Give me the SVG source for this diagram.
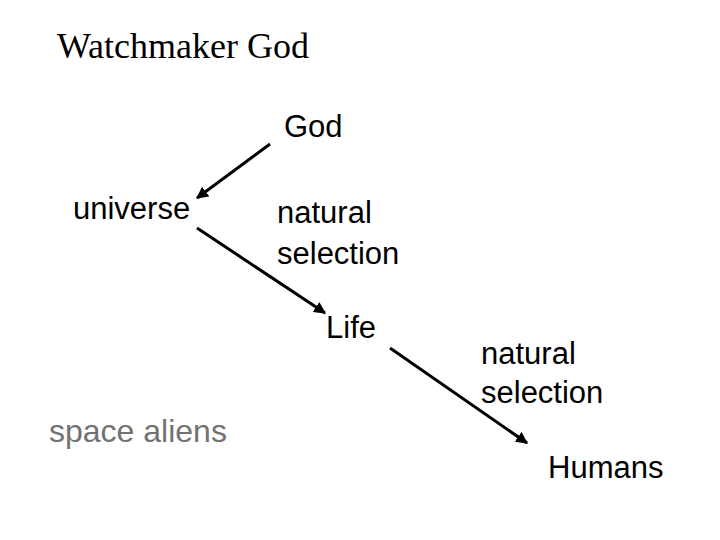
<svg xmlns="http://www.w3.org/2000/svg" width="720" height="540" viewBox="0 0 720 540">
<style>
.s{font-family:"Liberation Sans",Arial,sans-serif;font-size:31px;fill:#000}
.g{fill:#727272;font-size:32px}
.t{font-family:"Liberation Serif","Times New Roman",serif;font-size:36px;fill:#000}
.c{stroke:#000;stroke-width:3;fill:none}
</style>
<defs>
<marker id="ah" viewBox="0 0 10 10" refX="9" refY="5" markerWidth="4" markerHeight="4" orient="auto" markerUnits="strokeWidth">
<path d="M0,0L10,5L0,10z" fill="#000"/>
</marker>
</defs>
<rect width="720" height="540" fill="#fff"/>
<text class="t" x="57" y="58">Watchmaker God</text>
<g id="god"><text class="s" x="284" y="137">God</text></g>
<g id="universe"><text class="s" x="73" y="219">universe</text></g>
<g id="ns1"><text class="s" x="277" y="223">natural</text><text class="s" x="277" y="264">selection</text></g>
<g id="life"><text class="s" x="326" y="338">Life</text></g>
<g id="ns2"><text class="s" x="481" y="364">natural</text><text class="s" x="481" y="403">selection</text></g>
<g id="aliens"><text class="s g" x="49" y="442">space aliens</text></g>
<g id="humans"><text class="s" x="548" y="478">Humans</text></g>
<g id="connectors">
<line class="c" x1="270" y1="144" x2="197" y2="198" marker-end="url(#ah)"/>
<line class="c" x1="197" y1="228" x2="325" y2="313" marker-end="url(#ah)"/>
<line class="c" x1="390" y1="348" x2="527" y2="443" marker-end="url(#ah)"/>
</g>
</svg>
